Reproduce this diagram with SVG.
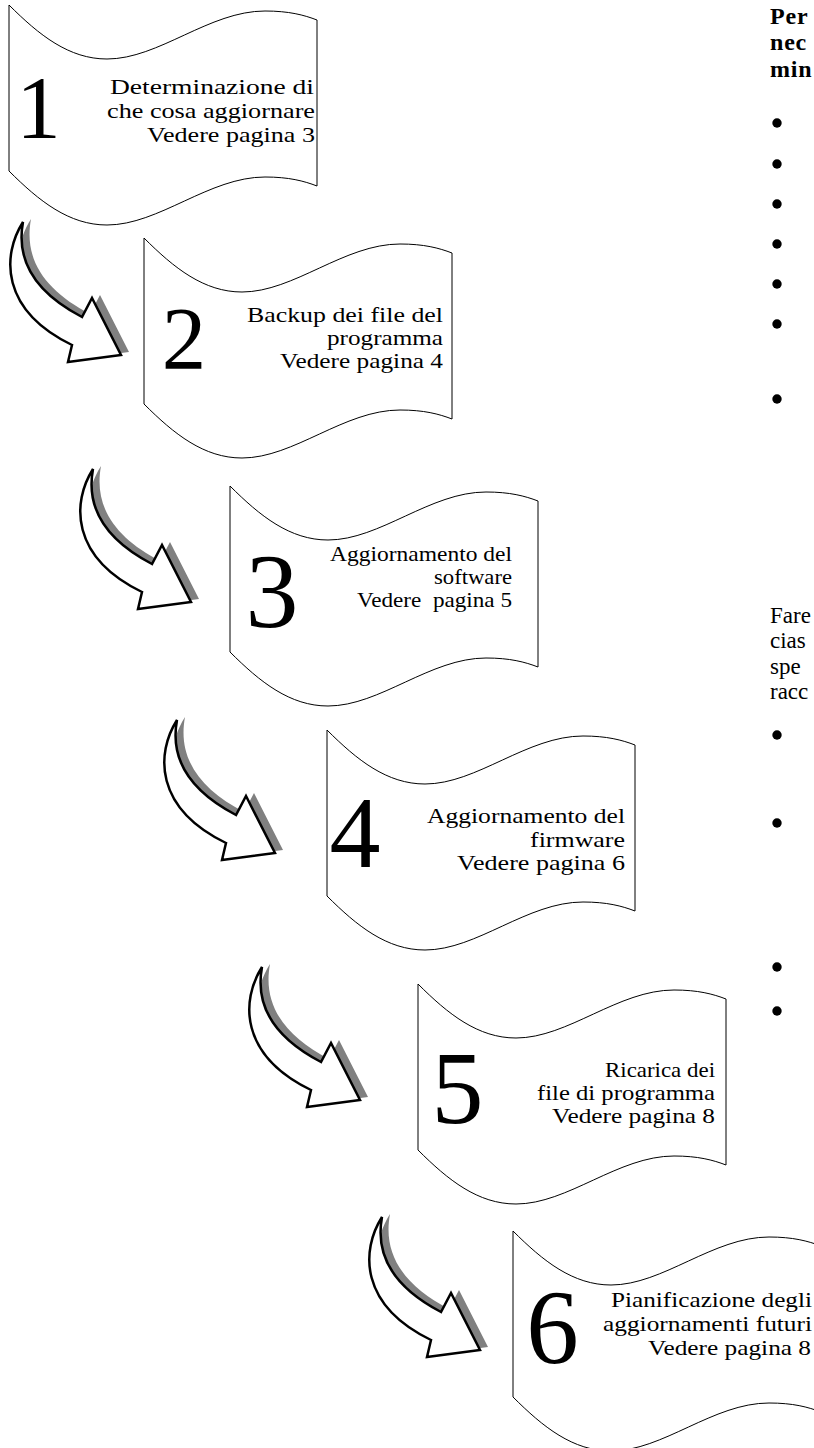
<svg xmlns="http://www.w3.org/2000/svg" xmlns:xlink="http://www.w3.org/1999/xlink" width="814" height="1448" viewBox="0 0 814 1448">
<style>
.wave{fill:#fff;stroke:#000;stroke-width:1}
.num{font-family:"Liberation Serif","Times New Roman",serif;text-anchor:middle;fill:#000}
.lbl{font-family:"Liberation Serif","Times New Roman",serif;font-size:22px;text-anchor:end;fill:#000;white-space:pre}
.side{font-family:"Liberation Serif","Times New Roman",serif;font-size:23px;fill:#000}
.bold{font-weight:bold;font-size:24px;letter-spacing:0.8px}
.arr{fill:#fff;stroke:#000;stroke-width:2.5;stroke-linejoin:miter}
.shd{fill:#808080}
.bul{fill:#000}
</style>
<defs>
<path id="wave" d="M0,0 C30,30 60,54 98,54 C150,54 200,6 256,6 C280,6 295,10 308,15 L308,181 C295,176 280,172 256,172 C200,172 150,220 98,220 C60,220 30,196 0,166 Z"/>
<path id="arrow" d="M23,222 C2,255 0,310 72,345 L68,362 L121,355 L92,298 L82,317 C40,295 15,265 23,222 Z"/>
</defs>

<g id="connectors">
  <g id="arrow1-2">
    <use xlink:href="#arrow" class="shd" transform="translate(8,-3)"/>
    <use xlink:href="#arrow" class="arr"/>
  </g>
  <g id="arrow2-3" transform="translate(70,247)">
    <use xlink:href="#arrow" class="shd" transform="translate(8,-3)"/>
    <use xlink:href="#arrow" class="arr"/>
  </g>
  <g id="arrow3-4" transform="translate(154,498)">
    <use xlink:href="#arrow" class="shd" transform="translate(8,-3)"/>
    <use xlink:href="#arrow" class="arr"/>
  </g>
  <g id="arrow4-5" transform="translate(239,745)">
    <use xlink:href="#arrow" class="shd" transform="translate(8,-3)"/>
    <use xlink:href="#arrow" class="arr"/>
  </g>
  <g id="arrow5-6" transform="translate(359,995)">
    <use xlink:href="#arrow" class="shd" transform="translate(8,-3)"/>
    <use xlink:href="#arrow" class="arr"/>
  </g>
</g>

<g id="step1">
  <use xlink:href="#wave" class="wave" transform="translate(9,5)"/>
  <text class="num" x="38.5" y="137" font-size="89">1</text>
  <text class="lbl" x="314" y="94" textLength="204" lengthAdjust="spacingAndGlyphs">Determinazione di</text>
  <text class="lbl" x="315" y="118" textLength="208" lengthAdjust="spacingAndGlyphs">che cosa aggiornare</text>
  <text class="lbl" x="315" y="142" textLength="168" lengthAdjust="spacingAndGlyphs">Vedere pagina 3</text>
</g>

<g id="step2">
  <use xlink:href="#wave" class="wave" transform="translate(144,238)"/>
  <text class="num" x="184" y="368" font-size="89">2</text>
  <text class="lbl" x="443" y="322" textLength="196" lengthAdjust="spacingAndGlyphs">Backup dei file del</text>
  <text class="lbl" x="443" y="345" textLength="116" lengthAdjust="spacingAndGlyphs">programma</text>
  <text class="lbl" x="443" y="368" textLength="163" lengthAdjust="spacingAndGlyphs">Vedere pagina 4</text>
</g>

<g id="step3">
  <use xlink:href="#wave" class="wave" transform="translate(230,486)"/>
  <text class="num" x="272" y="627" font-size="106">3</text>
  <text class="lbl" x="512" y="561" textLength="182" lengthAdjust="spacingAndGlyphs">Aggiornamento del</text>
  <text class="lbl" x="512" y="584" textLength="78" lengthAdjust="spacingAndGlyphs">software</text>
  <text class="lbl" x="512" y="607" textLength="155" lengthAdjust="spacingAndGlyphs">Vedere  pagina 5</text>
</g>

<g id="step4">
  <use xlink:href="#wave" class="wave" transform="translate(327,730)"/>
  <text class="num" x="355" y="867" font-size="102">4</text>
  <text class="lbl" x="625" y="823" textLength="198" lengthAdjust="spacingAndGlyphs">Aggiornamento del</text>
  <text class="lbl" x="625" y="847" textLength="95" lengthAdjust="spacingAndGlyphs">firmware</text>
  <text class="lbl" x="625" y="870" textLength="168" lengthAdjust="spacingAndGlyphs">Vedere pagina 6</text>
</g>

<g id="step5">
  <use xlink:href="#wave" class="wave" transform="translate(418,984)"/>
  <text class="num" x="457.5" y="1123" font-size="104">5</text>
  <text class="lbl" x="715" y="1077" textLength="110" lengthAdjust="spacingAndGlyphs">Ricarica dei</text>
  <text class="lbl" x="715" y="1100" textLength="178" lengthAdjust="spacingAndGlyphs">file di programma</text>
  <text class="lbl" x="715" y="1123" textLength="163" lengthAdjust="spacingAndGlyphs">Vedere pagina 8</text>
</g>

<g id="step6">
  <use xlink:href="#wave" class="wave" transform="translate(513,1231)"/>
  <text class="num" x="552.5" y="1363" font-size="105">6</text>
  <text class="lbl" x="812" y="1307" textLength="201" lengthAdjust="spacingAndGlyphs">Pianificazione degli</text>
  <text class="lbl" x="812" y="1331" textLength="209" lengthAdjust="spacingAndGlyphs">aggiornamenti futuri</text>
  <text class="lbl" x="811" y="1355" textLength="163" lengthAdjust="spacingAndGlyphs">Vedere pagina 8</text>
</g>

<g id="sidetext">
  <text class="side bold" x="770" y="24">Per</text>
  <text class="side bold" x="770" y="50">nec</text>
  <text class="side bold" x="770" y="77">min</text>
  <circle class="bul" cx="777" cy="123" r="4.7"/>
  <circle class="bul" cx="777" cy="164" r="4.7"/>
  <circle class="bul" cx="777" cy="204" r="4.7"/>
  <circle class="bul" cx="777" cy="244" r="4.7"/>
  <circle class="bul" cx="777" cy="284" r="4.7"/>
  <circle class="bul" cx="777" cy="324" r="4.7"/>
  <circle class="bul" cx="777" cy="399" r="4.7"/>
  <text class="side" x="770" y="623">Fare</text>
  <text class="side" x="770" y="648">cias</text>
  <text class="side" x="770" y="674">spe</text>
  <text class="side" x="770" y="699">racc</text>
  <circle class="bul" cx="777" cy="735" r="4.7"/>
  <circle class="bul" cx="777" cy="823" r="4.7"/>
  <circle class="bul" cx="777" cy="967" r="4.7"/>
  <circle class="bul" cx="777" cy="1011" r="4.7"/>
</g>
</svg>
